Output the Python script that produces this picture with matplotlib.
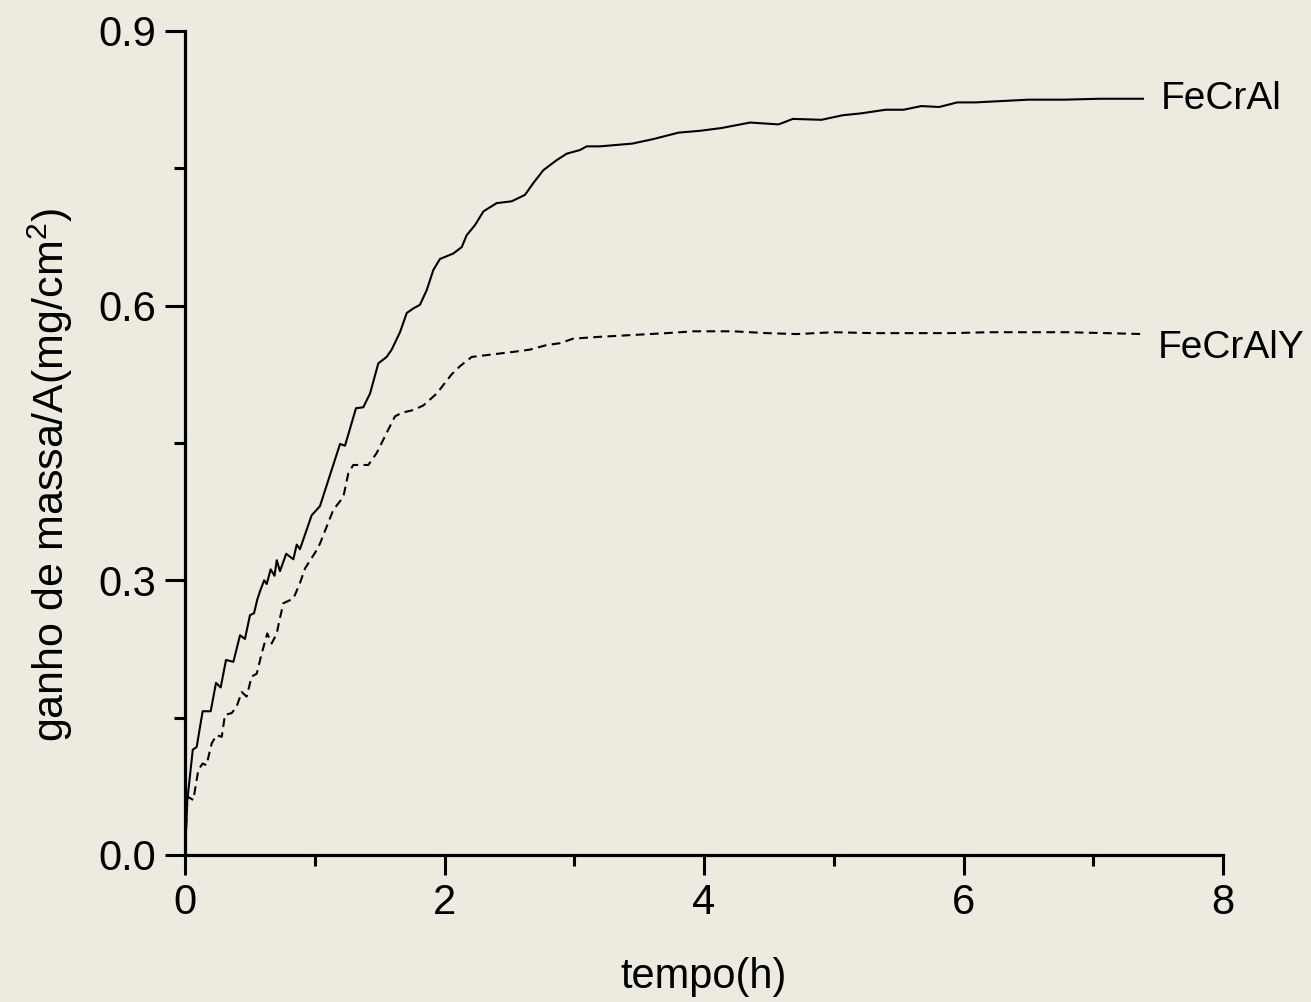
import matplotlib
matplotlib.use('Agg')
import matplotlib.pyplot as plt
from matplotlib.ticker import MultipleLocator

plt.rcParams['font.family'] = ['Liberation Sans', 'DejaVu Sans']
plt.rcParams['mathtext.fontset'] = 'custom'
plt.rcParams['mathtext.rm'] = 'Liberation Sans'

# tempo (h) x ganho de massa (mg/cm2)
t_fecral = [0, 0.018, 0.06, 0.09, 0.136, 0.198, 0.239, 0.275, 0.316, 0.373,
            0.424, 0.462, 0.501, 0.532, 0.557, 0.578, 0.61, 0.63, 0.66, 0.69,
            0.707, 0.732, 0.78, 0.835, 0.861, 0.886, 0.976, 1.04, 1.195, 1.233,
            1.318, 1.374, 1.426, 1.49, 1.554, 1.593, 1.657, 1.709, 1.76, 1.811,
            1.863, 1.914, 1.965, 2.068, 2.133, 2.171, 2.235, 2.3, 2.402, 2.518,
            2.62, 2.685, 2.762, 2.865, 2.942, 3.044, 3.096, 3.198, 3.446, 3.611,
            3.804, 3.969, 4.134, 4.355, 4.575, 4.685, 4.905, 5.07, 5.208, 5.40,
            5.538, 5.675, 5.813, 5.951, 6.089, 6.227, 6.50, 6.777, 7.052, 7.383]
m_fecral = [0, 0.06, 0.115, 0.118, 0.157, 0.157, 0.188, 0.183, 0.213, 0.211,
            0.240, 0.236, 0.262, 0.264, 0.279, 0.288, 0.300, 0.296, 0.312, 0.305,
            0.322, 0.310, 0.329, 0.323, 0.339, 0.334, 0.371, 0.381, 0.449, 0.447,
            0.488, 0.489, 0.504, 0.537, 0.544, 0.552, 0.571, 0.592, 0.597, 0.601,
            0.617, 0.639, 0.651, 0.657, 0.664, 0.677, 0.688, 0.703, 0.712, 0.714,
            0.721, 0.734, 0.748, 0.759, 0.766, 0.770, 0.774, 0.774, 0.777, 0.782,
            0.789, 0.791, 0.794, 0.800, 0.798, 0.804, 0.803, 0.808, 0.810, 0.814,
            0.814, 0.818, 0.817, 0.822, 0.822, 0.823, 0.825, 0.825, 0.826, 0.826]

t_fecraly = [0, 0.018, 0.064, 0.103, 0.136, 0.165, 0.206, 0.244, 0.283, 0.308,
             0.36, 0.398, 0.437, 0.475, 0.514, 0.553, 0.591, 0.634, 0.668, 0.707,
             0.732, 0.758, 0.835, 0.886, 0.925, 1.015, 1.04, 1.143, 1.22, 1.259,
             1.297, 1.413, 1.477, 1.554, 1.618, 1.67, 1.76, 1.837, 1.94, 2.0,
             2.055, 2.12, 2.21, 2.325, 2.556, 2.659, 2.788, 2.89, 2.993, 3.198,
             3.455, 3.712, 3.918, 4.226, 4.483, 4.714, 5.0, 5.3, 5.6, 5.9,
             6.2, 6.5, 6.8, 7.1, 7.38]
m_fecraly = [0, 0.064, 0.060, 0.093, 0.100, 0.098, 0.122, 0.131, 0.129, 0.153,
             0.155, 0.162, 0.178, 0.173, 0.195, 0.198, 0.220, 0.242, 0.231, 0.242,
             0.259, 0.275, 0.280, 0.297, 0.313, 0.333, 0.340, 0.377, 0.391, 0.417,
             0.426, 0.426, 0.439, 0.461, 0.479, 0.483, 0.486, 0.491, 0.504, 0.515,
             0.525, 0.534, 0.544, 0.546, 0.550, 0.552, 0.557, 0.559, 0.564, 0.566,
             0.568, 0.570, 0.572, 0.572, 0.570, 0.569, 0.571, 0.570, 0.570, 0.570,
             0.571, 0.571, 0.571, 0.570, 0.569]

bg = '#EDEAE0'
fig = plt.figure(figsize=(13.11, 10.02), dpi=100, facecolor=bg)
ax = fig.add_axes([185/1311, 1-855/1002, (1223-185)/1311, (855-31)/1002])
ax.set_facecolor(bg)

ax.plot(t_fecral, m_fecral, '-', color='black', lw=1.5)
ax.plot(t_fecraly, m_fecraly, '--', color='black', lw=1.5, dashes=(4.2, 2.6))

ax.set_xlim(0, 8)
ax.set_ylim(0, 0.9)
ax.xaxis.set_major_locator(MultipleLocator(2))
ax.xaxis.set_minor_locator(MultipleLocator(1))
ax.yaxis.set_minor_locator(MultipleLocator(0.15))
ax.set_yticks([0, 0.3, 0.6, 0.9])
ax.set_yticklabels(['0.0', '0.3', '0.6', '0.9'])

for s in ['top', 'right']:
    ax.spines[s].set_visible(False)
for s in ['left', 'bottom']:
    ax.spines[s].set_linewidth(2.3)

ax.tick_params(which='major', direction='out', length=14.5, width=2.2,
               labelsize=30, pad=6)
ax.tick_params(which='minor', direction='out', length=8, width=2.2)

ax.set_xlabel('tempo(h)', fontsize=30, labelpad=24)
fig.text(50/1311, 1-475/1002, r'ganho de massa/A(mg/cm$\mathregular{^2}$)',
         fontsize=31, rotation=90, ha='center', va='center')

ax.text(7.52, 0.826, 'FeCrAl', fontsize=28, va='center', ha='left', clip_on=False)
ax.text(7.50, 0.554, 'FeCrAlY', fontsize=28, va='center', ha='left', clip_on=False)

fig.savefig('out.png', dpi=100, facecolor=bg)
